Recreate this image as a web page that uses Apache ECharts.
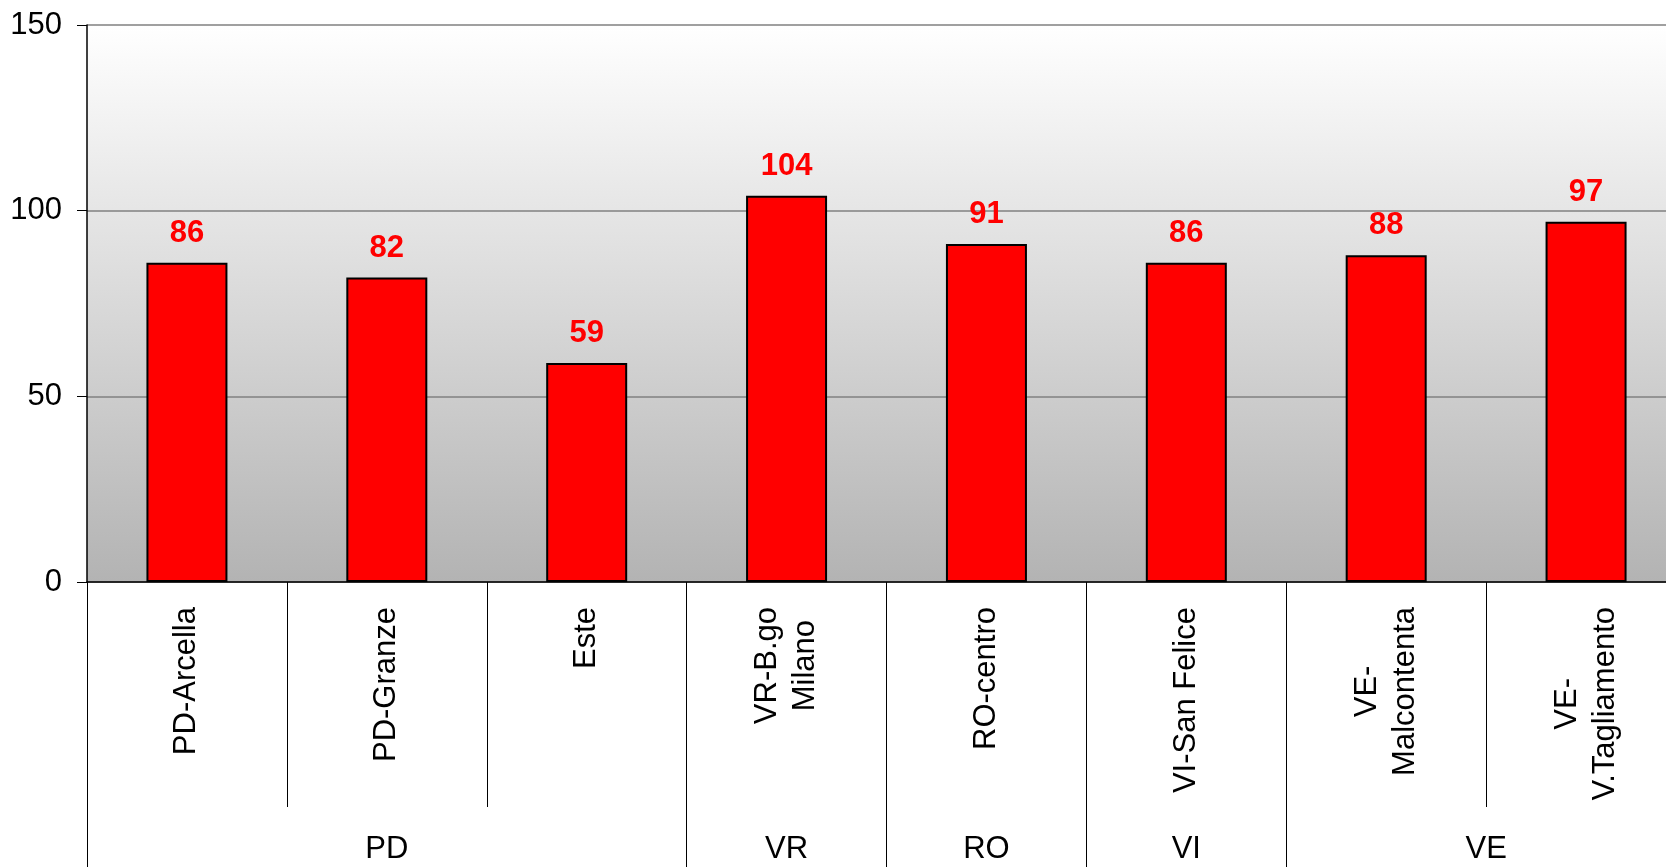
<!DOCTYPE html>
<html>
<head>
<meta charset="utf-8">
<script src="https://cdn.jsdelivr.net/npm/echarts@6/dist/echarts.min.js"></script>
<style>
html,body{margin:0;padding:0;background:#fff;}
#chart{width:1666px;height:867px;}
</style>
</head>
<body>
<div id="chart"></div>
<script>
// Data
var categories = ['PD-Arcella', 'PD-Granze', 'Este', 'VR-B.go\nMilano', 'RO-centro', 'VI-San Felice', 'VE-\nMalcontenta', 'VE-\nV.Tagliamento'];
var values = [86, 82, 59, 104, 91, 86, 88, 97];
var groupNames = ['PD', 'VR', 'RO', 'VI', 'VE'];
var groupSizes = [3, 1, 1, 1, 2];
var yTicks = [0, 50, 100, 150];

// Build group axis slots (half-category granularity, boundaryGap false)
var nSlots = categories.length * 2 + 1;
var groupSlots = [];
for (var i = 0; i < nSlots; i++) groupSlots.push('');
var boundarySlots = {};
var start = 0;
for (var g = 0; g < groupNames.length; g++) {
  boundarySlots[start * 2] = true;
  var center = start + groupSizes[g] / 2;
  groupSlots[Math.round(center * 2)] = groupNames[g];
  start += groupSizes[g];
}
boundarySlots[start * 2] = true;

var FONT = '"Liberation Sans", Arial, sans-serif';
var chart = echarts.init(document.getElementById('chart'), null, {renderer: 'canvas'});
chart.setOption({
  animation: false,
  backgroundColor: '#ffffff',
  grid: {
    left: 87, right: -20, top: 25, bottom: 285,
    outerBoundsMode: 'none',
    containLabel: false,
    show: true,
    borderWidth: 0,
    backgroundColor: new echarts.graphic.LinearGradient(0, 0, 0, 1, [
      {offset: 0, color: '#ffffff'},
      {offset: 1, color: '#b3b3b3'}
    ])
  },
  xAxis: [
    {
      type: 'category',
      data: categories,
      position: 'bottom',
      boundaryGap: true,
      axisLine: {show: true, lineStyle: {color: '#000', width: 1.5}},
      axisTick: {show: true, interval: 0, length: 225, lineStyle: {color: '#000', width: 1}},
      axisLabel: {
        interval: 0,
        rotate: 90,
        margin: 25,
        color: '#000',
        fontFamily: FONT,
        fontSize: 31,
        hideOverlap: false,
        formatter: function (v) {
          return v.split('\n').map(function (s) { return '{c|' + s + '}'; }).join('\n');
        },
        rich: {
          c: {align: 'center', fontFamily: FONT, fontSize: 31, lineHeight: 38, color: '#000'}
        }
      }
    },
    {
      type: 'category',
      data: groupSlots,
      position: 'bottom',
      boundaryGap: false,
      axisLine: {show: false},
      axisTick: {
        show: true,
        length: 285,
        interval: function (idx) { return !!boundarySlots[idx]; },
        lineStyle: {color: '#000', width: 1}
      },
      axisLabel: {
        interval: 0,
        margin: 252,
        color: '#000',
        fontFamily: FONT,
        fontSize: 31,
        hideOverlap: false
      }
    }
  ],
  yAxis: {
    type: 'value',
    min: 0,
    max: 150,
    interval: 50,
    axisLine: {show: true, lineStyle: {color: '#000', width: 1.5}},
    axisTick: {show: true, length: 10, lineStyle: {color: '#000', width: 1}},
    axisLabel: {
      margin: 25,
      color: '#000',
      fontFamily: FONT,
      fontSize: 31,
      formatter: function (v) { return yTicks.indexOf(v) >= 0 ? String(v) : ''; }
    },
    splitLine: {show: true, lineStyle: {color: '#808080', width: 1.5}}
  },
  series: [{
    type: 'bar',
    data: values,
    barWidth: 81,
    xAxisIndex: 0,
    itemStyle: {color: '#ff0000', borderColor: '#000', borderWidth: 2},
    label: {
      show: true,
      position: 'top',
      distance: 14,
      color: '#ff0000',
      fontFamily: FONT,
      fontSize: 31,
      fontWeight: 'bold'
    }
  }]
});
</script>
</body>
</html>
